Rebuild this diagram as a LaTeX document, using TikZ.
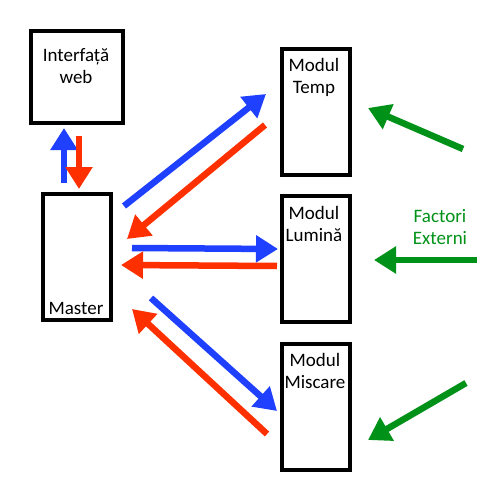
\documentclass[tikz,border=0pt]{standalone}
\usepackage{fontspec}
\setmainfont{Carlito}
\usetikzlibrary{arrows.meta}
\definecolor{cblue}{RGB}{31,64,255}
\definecolor{cred}{RGB}{255,48,0}
\definecolor{cgreen}{RGB}{0,146,24}
\begin{document}
\begin{tikzpicture}[x=1pt,y=-1pt,
  box/.style={draw=black,line width=4pt,inner sep=0pt,minimum width=#1,minimum height=126pt},
  box/.default=68pt,
  txt/.style={anchor=base,inner sep=0pt,font=\fontsize{19}{22}\selectfont},
  flow/.style={line width=6.5pt,-{Triangle[length=22pt,width=26pt]}},
  bflow/.style={flow,draw=cblue,fill=cblue},
  rflow/.style={flow,draw=cred,fill=cred},
  gflow/.style={flow,draw=cgreen,fill=cgreen}]
\useasboundingbox[fill=white] (0,0) rectangle (500,500);
% boxes
\node[box=92pt,minimum height=92pt] (web) at (77,77) {};
\node[box] (master) at (77,257) {};
\node[box] (temp) at (316,112) {};
\node[box] (lumina) at (316,259) {};
\node[box] (miscare) at (316,407) {};
% texts
\node[txt] (webA) at (76,62) {Interfață};
\node[txt] (webB) at (76,84) {web};
\node[txt] (masterA) at (76,314) {Master};
\node[txt] (tempA) at (314,72) {Modul};
\node[txt] (tempB) at (314,94) {Temp};
\node[txt] (luminaA) at (314,219) {Modul};
\node[txt] (luminaB) at (314,241) {Lumină};
\node[txt] (miscareA) at (315,366) {Modul};
\node[txt] (miscareB) at (315,388) {Miscare};
\node[txt,text=cgreen] (factA) at (440,222) {Factori};
\node[txt,text=cgreen] (factB) at (440,244) {Externi};
% arrow end points
\coordinate (w1s) at (64,183); \coordinate (w1e) at (64,128);
\coordinate (w2s) at (79,136); \coordinate (w2e) at (79,189);
\coordinate (t1s) at (124,206); \coordinate (t1e) at (266,94);
\coordinate (t2s) at (265,125); \coordinate (t2e) at (127,239);
\coordinate (l1s) at (132,248); \coordinate (l1e) at (278,249);
\coordinate (l2s) at (277,266); \coordinate (l2e) at (121,265);
\coordinate (m1s) at (151,298); \coordinate (m1e) at (277,411);
\coordinate (m2s) at (267,434); \coordinate (m2e) at (132,309);
\coordinate (g1s) at (463,149); \coordinate (g1e) at (368,108);
\coordinate (g2s) at (477,260); \coordinate (g2e) at (374,260);
\coordinate (g3s) at (466,383); \coordinate (g3e) at (368,440);
% arrows
\draw[bflow] (w1s) -- (w1e);
\draw[rflow] (w2s) -- (w2e);
\draw[bflow] (t1s) -- (t1e);
\draw[rflow] (t2s) -- (t2e);
\draw[bflow] (l1s) -- (l1e);
\draw[rflow] (l2s) -- (l2e);
\draw[bflow] (m1s) -- (m1e);
\draw[rflow] (m2s) -- (m2e);
\draw[gflow] (g1s) -- (g1e);
\draw[gflow] (g2s) -- (g2e);
\draw[gflow] (g3s) -- (g3e);
\end{tikzpicture}
\end{document}
